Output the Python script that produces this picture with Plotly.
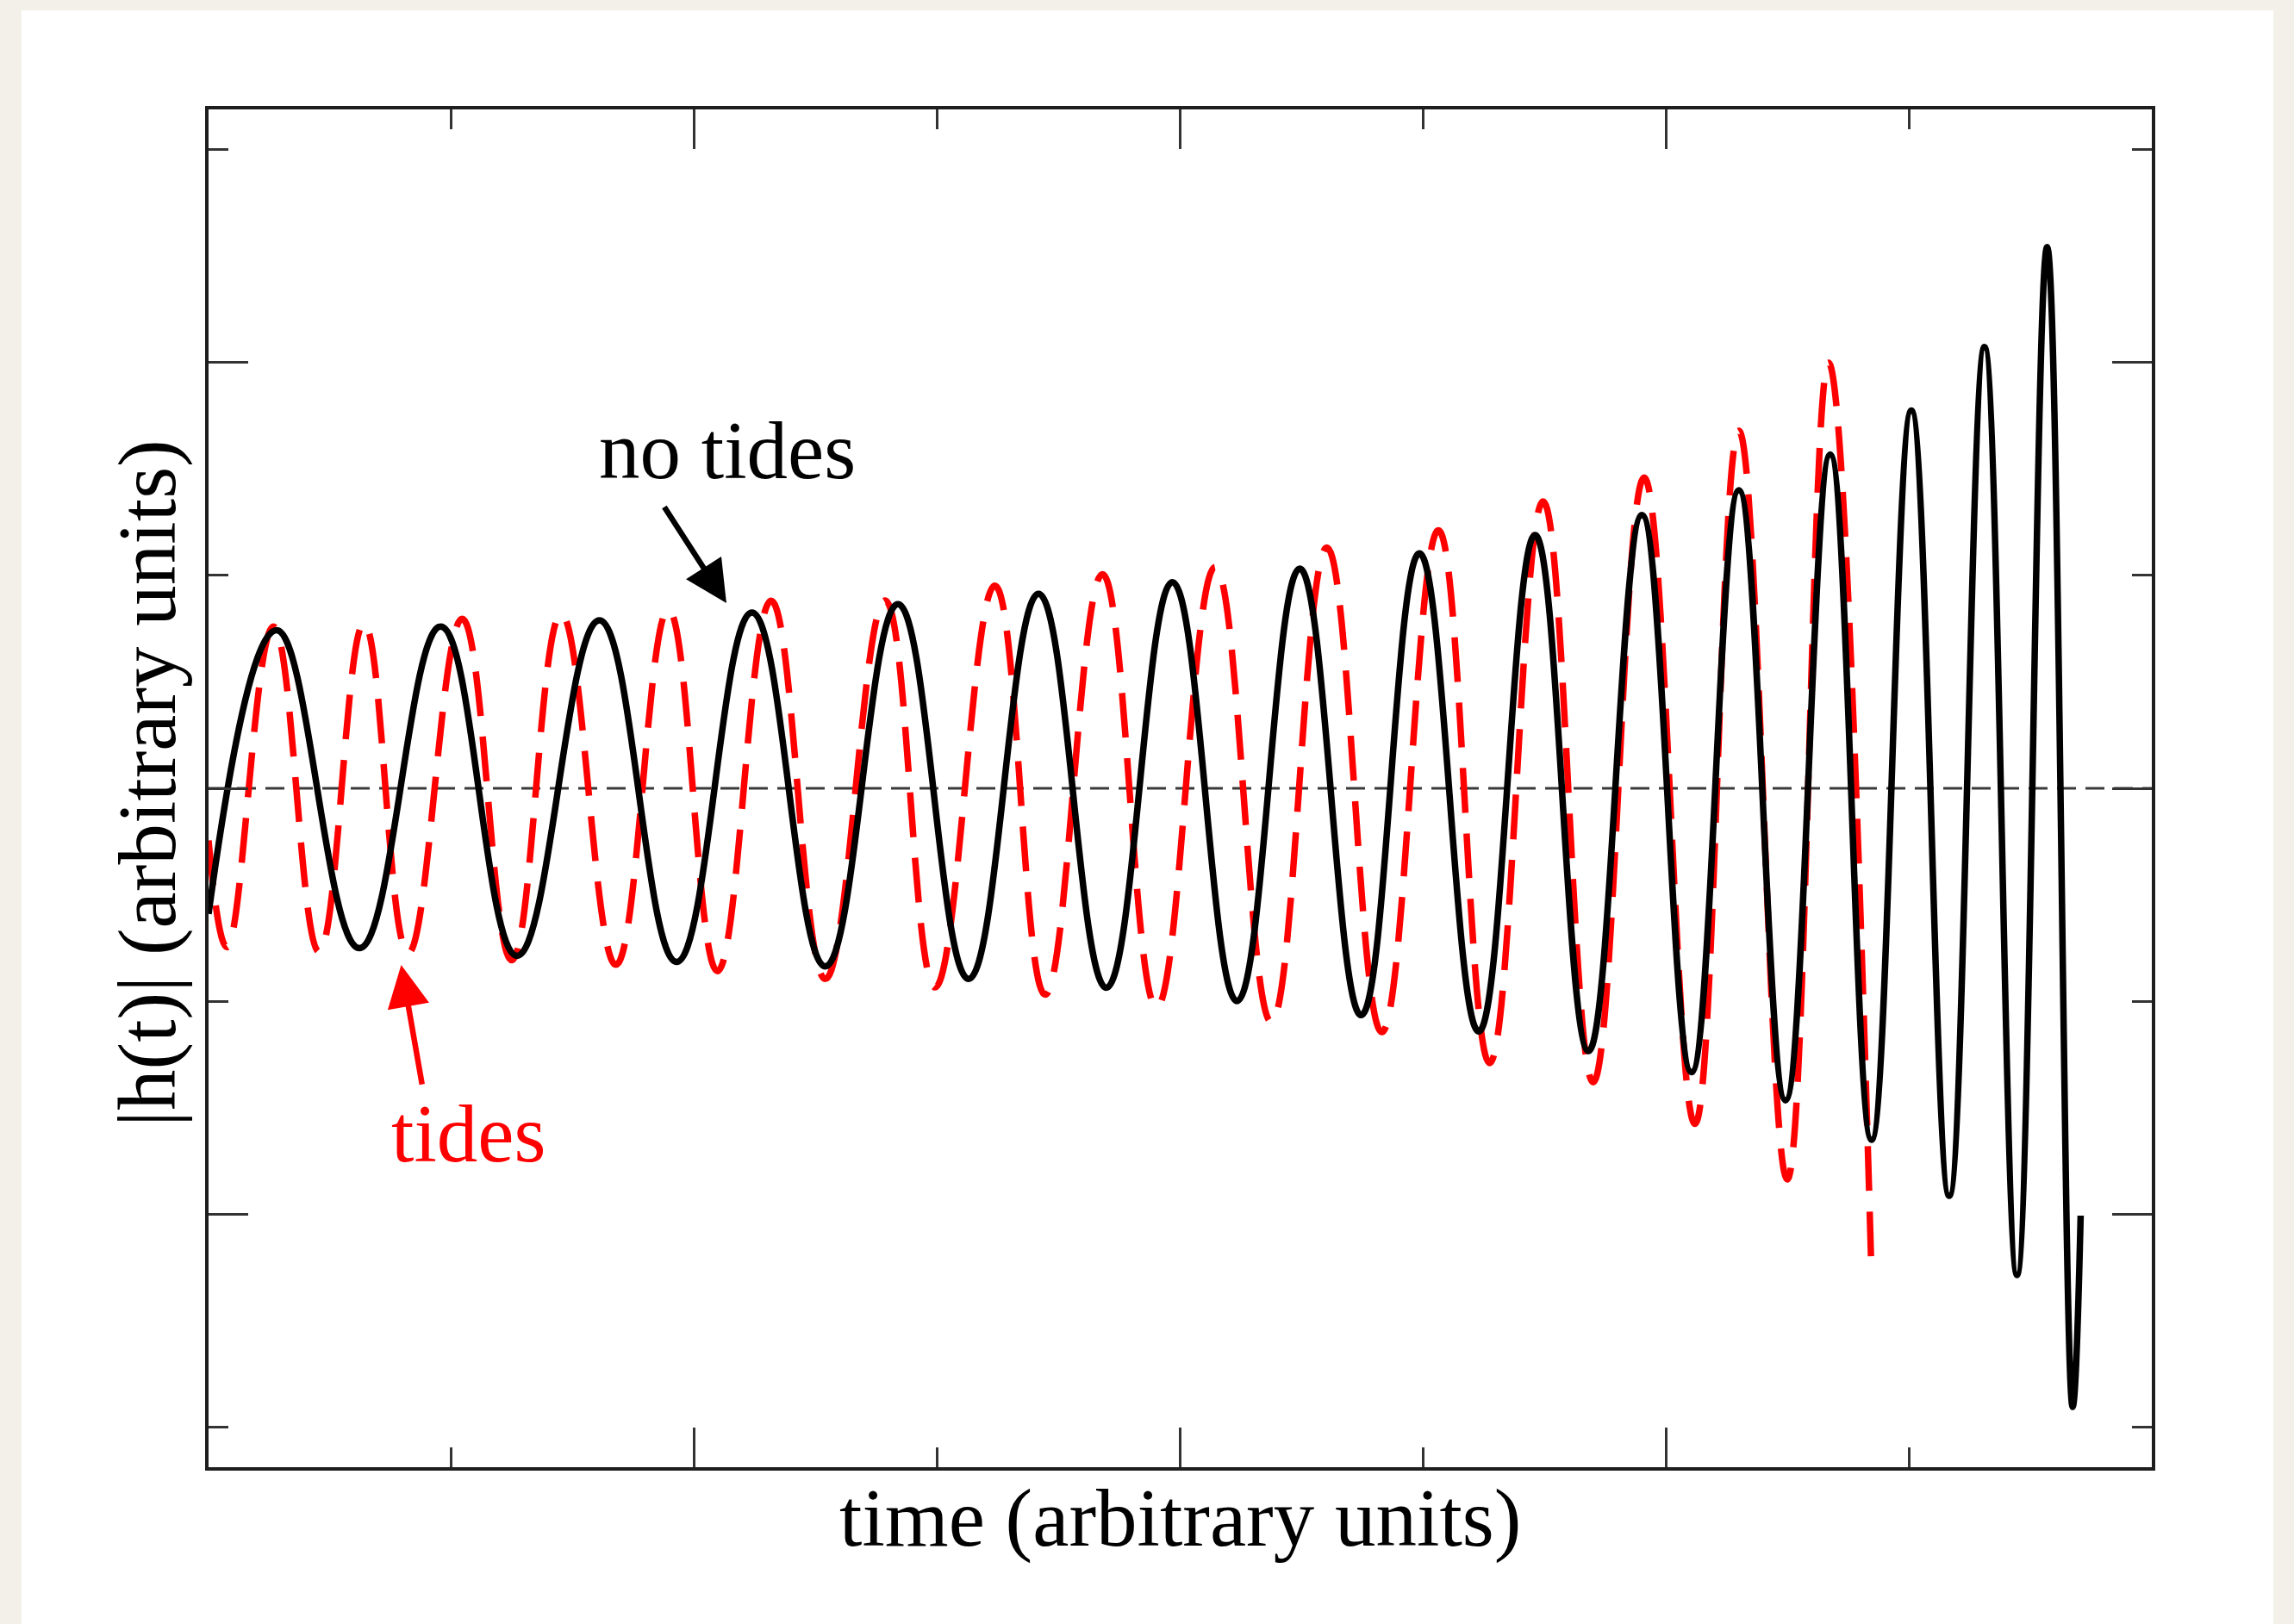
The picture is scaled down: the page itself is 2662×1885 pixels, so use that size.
import plotly.graph_objects as go

# "no tides" waveform (black): start, alternating peaks / troughs, end
no_tides_t = [0.000, 0.280, 0.621, 0.956, 1.270, 1.609, 1.927, 2.237, 2.539, 2.838,
              3.129, 3.417, 3.696, 3.968, 4.234, 4.492, 4.745, 4.985, 5.229, 5.461,
              5.681, 5.901, 6.105, 6.300, 6.492, 6.676, 6.846, 7.010, 7.166, 7.311,
              7.445, 7.569, 7.674, 7.707]
no_tides_h = [-0.59, 0.743, -0.751, 0.760, -0.787, 0.789, -0.816, 0.826, -0.837, 0.865,
              -0.896, 0.914, -0.937, 0.969, -1.000, 1.032, -1.066, 1.104, -1.143, 1.190,
              -1.235, 1.284, -1.334, 1.401, -1.466, 1.569, -1.652, 1.775, -1.915, 2.074,
              -2.287, 2.543, -2.907, -2.008]

# "tides" waveform (red dashed)
tides_t = [0.000, 0.076, 0.267, 0.455, 0.640, 0.822, 1.044, 1.248, 1.452, 1.677,
           1.893, 2.095, 2.316, 2.539, 2.785, 2.991, 3.237, 3.444, 3.680, 3.903,
           4.144, 4.375, 4.604, 4.830, 5.063, 5.274, 5.494, 5.700, 5.910, 6.119,
           6.300, 6.499, 6.669, 6.846]
tides_h = [-0.245, -0.747, 0.760, -0.768, 0.775, -0.775, 0.796, -0.808, 0.819, -0.829,
           0.840, -0.859, 0.881, -0.896, 0.883, -0.935, 0.952, -0.970, 1.006, -1.030,
           1.040, -1.098, 1.131, -1.146, 1.212, -1.291, 1.348, -1.381, 1.460, -1.577,
           1.680, -1.838, 2.000, -2.287]

x_range = [0, 8]
y_range = [-3.19, 3.19]

FONT = "Liberation Serif, Times New Roman, serif"
FS = 95

fig = go.Figure()
fig.add_trace(go.Scatter(x=tides_t, y=tides_h, mode="lines",
                         line=dict(color="#ff0000", width=7.5, dash="52px,24px",
                                   shape="spline", smoothing=1.2),
                         showlegend=False, hoverinfo="skip"))
fig.add_trace(go.Scatter(x=no_tides_t, y=no_tides_h, mode="lines",
                         line=dict(color="#000000", width=7.5,
                                   shape="spline", smoothing=1.2),
                         showlegend=False, hoverinfo="skip"))

W, H = 2662, 1885
L, R, T, B = 242, 165, 127, 182
pw, ph = W - L - R, H - T - B

def px_x(p):
    return (p - L) / pw

def px_y(p):
    return (H - B - p) / ph

shapes = [
    # white card on beige page
    dict(type="rect", xref="paper", yref="paper",
         x0=px_x(25), x1=px_x(2638), y0=px_y(1895), y1=px_y(12),
         fillcolor="white", line=dict(width=0), layer="below"),
    # dashed zero line
    dict(type="line", xref="paper", yref="y", x0=0, x1=1, y0=0, y1=0,
         line=dict(color="#3a3a3a", width=3, dash="22px,11px"), layer="below"),
]

annotations = [
    dict(text="time (arbitrary units)", xref="paper", yref="paper",
         x=px_x(1369), y=px_y(1762), xanchor="center", yanchor="middle",
         showarrow=False, font=dict(family=FONT, size=FS, color="black")),
    dict(text="|h(t)| (arbitrary units)", xref="paper", yref="paper",
         x=px_x(171), y=px_y(909), xanchor="center", yanchor="middle",
         textangle=-90, showarrow=False,
         font=dict(family=FONT, size=FS, color="black")),
    dict(text="no tides", xref="x", yref="y", x=2.136, y=1.585,
         xanchor="center", yanchor="middle", showarrow=False,
         font=dict(family=FONT, size=FS, color="black")),
    dict(text="tides", xref="x", yref="y", x=1.068, y=-1.625,
         xanchor="center", yanchor="middle", showarrow=False,
         font=dict(family=FONT, size=FS, color="#ff0000")),
    dict(text="", xref="x", yref="y", x=2.132, y=0.870,
         axref="x", ayref="y", ax=1.873, ay=1.328,
         showarrow=True, arrowhead=2, arrowsize=1.5, arrowwidth=6.5,
         arrowcolor="black", standoff=0),
    dict(text="", xref="x", yref="y", x=0.793, y=-0.830,
         axref="x", ayref="y", ax=0.880, ay=-1.397,
         showarrow=True, arrowhead=2, arrowsize=1.5, arrowwidth=6.5,
         arrowcolor="#ff0000", standoff=0),
]

axis_common = dict(
    showline=True, linewidth=4, linecolor="#1e1e1e", mirror="ticks",
    ticks="inside", ticklen=46, tickwidth=2.5, tickcolor="#333333",
    showticklabels=False, showgrid=False, zeroline=False,
    minor=dict(ticks="inside", ticklen=23, tickwidth=2.5, tickcolor="#333333",
               dtick=1, showgrid=False),
)

fig.update_xaxes(range=x_range, tick0=0, dtick=2, **axis_common)
fig.update_yaxes(range=y_range, tick0=0, dtick=2, **axis_common)

fig.update_layout(
    width=W, height=H,
    margin=dict(l=L, r=R, t=T, b=B),
    paper_bgcolor="#f3f0e9",
    plot_bgcolor="white",
    shapes=shapes,
    annotations=annotations,
)

fig.write_html("out.html")
